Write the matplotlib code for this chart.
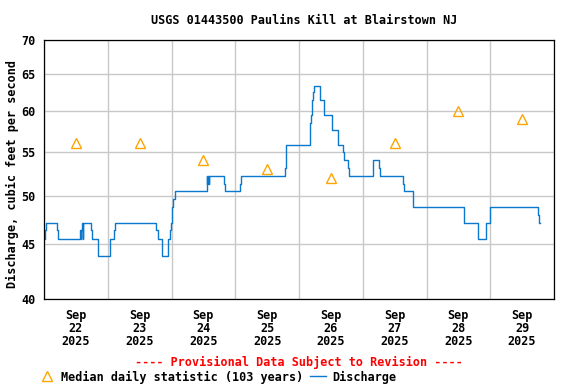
import matplotlib
matplotlib.use("Agg")
import matplotlib.pyplot as plt
import matplotlib.dates as mdates
from matplotlib.lines import Line2D
import matplotlib.ticker as mticker
import pandas as pd

title = "USGS 01443500 Paulins Kill at Blairstown NJ"
start = pd.Timestamp("2025-09-22 00:00")

# discharge change points: hours after start, value (cfs) held until next point
flow_hours = [0.0, 0.25, 0.75, 5.0, 5.25, 13.5, 13.75, 14.0, 14.25, 14.5, 14.75,
              17.75, 18.25, 20.5, 24.75, 26.5, 26.75, 42.25, 42.75, 44.25, 44.5,
              46.5, 46.75, 47.5, 47.75, 48.25, 48.75, 49.5, 61.25, 61.5, 61.75,
              62.0, 62.25, 67.75, 68.25, 73.75, 74.25, 90.75, 91.25, 100.25, 100.5,
              101.0, 101.25, 101.75, 104.0, 105.5, 108.5, 110.75, 112.75, 113.0,
              114.5, 115.0, 124.0, 126.25, 126.5, 135.25, 135.5, 139.0, 158.0,
              158.25, 163.25, 163.5, 166.5, 168.0, 186.0, 186.5, 186.75]
flow_cfs = [45.5, 46.4, 47.1, 46.4, 45.5, 46.4, 45.5, 46.4, 47.1, 45.5, 47.1,
            46.4, 45.5, 43.9, 45.5, 46.4, 47.1, 46.4, 45.5, 44.7, 43.9,
            44.7, 45.5, 46.4, 47.1, 48.8, 49.7, 50.5, 52.2, 51.3, 52.2,
            51.3, 52.2, 51.3, 50.5, 51.3, 52.2, 53.1, 55.8, 58.5, 59.5,
            61.5, 62.5, 63.4, 61.5, 59.5, 57.6, 55.8, 54.9, 54.0,
            53.1, 52.2, 54.0, 53.1, 52.2, 51.3, 50.5, 48.8, 48.0,
            47.1, 46.4, 45.5, 47.1, 48.8, 48.0, 47.1, 47.1]

# median daily statistic, plotted at noon
median_days = ["2025-09-22", "2025-09-23", "2025-09-24", "2025-09-25",
               "2025-09-26", "2025-09-27", "2025-09-28", "2025-09-29"]
median_cfs = [56.0, 56.0, 54.0, 53.0, 52.0, 56.0, 60.0, 59.0]

y_ticks = [40, 45, 50, 55, 60, 65, 70]

blue = "#0a78cc"
orange = "#ffa500"

plt.rcParams["font.family"] = "DejaVu Sans Mono"
plt.rcParams["font.weight"] = "bold"
plt.rcParams["font.size"] = 8.5

fig = plt.figure(figsize=[5.76, 3.84], dpi=100)
ax = fig.add_axes([44/576, 1-299/384, 510/576, 259/384])

t = start + pd.to_timedelta(flow_hours, unit="h")
ax.step(t, flow_cfs, where="post", color=blue, lw=1.0, zorder=3)

tm = pd.to_datetime(median_days) + pd.Timedelta(hours=12)
ax.plot(tm, median_cfs, linestyle="none", marker="^", ms=6.5, mfc="none",
        mec=orange, mew=1.0, zorder=4)

ax.set_yscale("log")
ax.set_ylim(40, 70)
ax.yaxis.set_major_locator(mticker.FixedLocator(y_ticks))
ax.yaxis.set_major_formatter(mticker.FixedFormatter([str(v) for v in y_ticks]))
ax.yaxis.set_minor_locator(mticker.NullLocator())

ax.set_xlim(start, start + pd.Timedelta(days=8))
noon = [start + pd.Timedelta(hours=12 + 24*i) for i in range(8)]
ax.set_xticks(noon)
ax.set_xticklabels([d.strftime("%b\n%d\n%Y") for d in noon], linespacing=1.03)
ax.xaxis.set_minor_locator(mdates.DayLocator())

ax.tick_params(axis="both", which="both", length=0)
ax.tick_params(axis="x", pad=7)
ax.tick_params(axis="y", pad=6)
ax.grid(axis="x", which="minor", color="#c8c8c8", lw=1.0)
ax.grid(axis="y", which="major", color="#c8c8c8", lw=1.0)
for s in ax.spines.values():
    s.set_linewidth(0.9)
    s.set_zorder(5)

fig.text(304/576, 1-20/384, title, ha="center", va="center")
fig.text(12/576, 1-174/384, "Discharge, cubic feet per second", rotation=90,
         ha="center", va="center")
fig.text(299/576, 1-362/384, "---- Provisional Data Subject to Revision ----",
         ha="center", va="center", color="red")

handles = [Line2D([], [], linestyle="none", marker="^", ms=6.5, mfc="none",
                  mec=orange, mew=1.0),
           Line2D([], [], color=blue, lw=1.0)]
fig.legend(handles, ["Median daily statistic (103 years)", "Discharge"],
           loc="center left", bbox_to_anchor=(39/576, 7/384), ncol=2,
           frameon=False, borderpad=0, borderaxespad=0, handlelength=1.4,
           handletextpad=0.5, columnspacing=0.5)

fig.savefig("out.png", dpi=100)
